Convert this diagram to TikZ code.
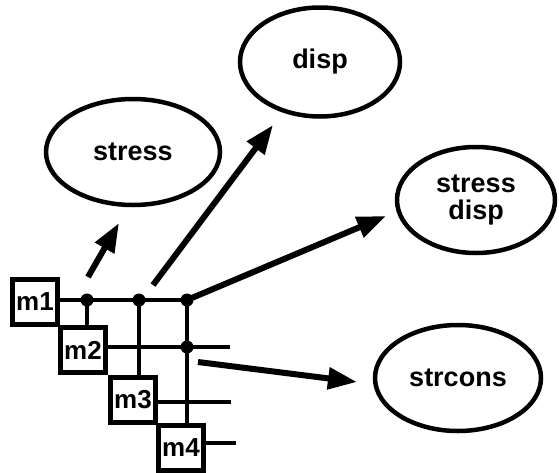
\documentclass[tikz,border=0pt]{standalone}
\usepackage{fontspec}
\setmainfont{Liberation Sans}
\usetikzlibrary{shapes.geometric,arrows.meta}

\tikzset{
  blob/.style={draw,ellipse,line width=4.5pt,inner sep=0pt,align=center,
    font=\fontsize{27}{27}\selectfont\bfseries},
  mbox/.style={draw,line width=4.5pt,inner sep=0pt,minimum width=45pt,minimum height=45pt,
    font=\fontsize{26}{26}\selectfont\bfseries},
  wire/.style={line width=4.5pt},
  arr/.style={line width=6pt,-{Triangle[length=29pt,width=21pt]}},
}

\begin{document}
\begin{tikzpicture}[x=1pt,y=-1pt]
                \useasboundingbox (0,0) rectangle (559,472);
                % Draw the ellipses
                \node[blob,minimum width=174pt,minimum height=106pt] (stress) at (133,152) {stress};
                \node[blob,minimum width=160pt,minimum height=109pt] (disp) at (320,62) {disp};
                \node[blob,minimum width=158pt,minimum height=106pt] (strdisp) at (476,200) {stress\\disp};
                \node[blob,minimum width=166pt,minimum height=106pt] (strcons) at (458,378) {strcons};

                % Draw the boxes
                \node[mbox] (m1) at (35,302) {m1};
                \node[mbox] (m2) at (83,350) {m2};
                \node[mbox] (m3) at (133,400) {m3};
                \node[mbox] (m4) at (181,448) {m4};

                % the joints and the loose ends
                \coordinate (d1) at (87,300);
                \coordinate (d2) at (139,300);
                \coordinate (d3) at (187,300);
                \coordinate (d4) at (187,347);
                \coordinate (e2) at (230,347);
                \coordinate (e3) at (231,402);
                \coordinate (e4) at (236,443);

                % Draw the lines
                \draw[wire] (m1.east |- d1) -- (d3);
                \draw[wire] (m2.east |- d4) -- (e2);
                \draw[wire] (m3.east |- e3) -- (e3);
                \draw[wire] (m4.east |- e4) -- (e4);
                \draw[wire] (d1) -- (d1 |- m2.north);
                \draw[wire] (d2) -- (d2 |- m3.north);
                \draw[wire] (d3) -- (d3 |- m4.north);
                \fill (d1) circle (6.5pt);
                \fill (d2) circle (6.5pt);
                \fill (d3) circle (6.5pt);
                \fill (d4) circle (6.5pt);

                % Draw the arrows
                \coordinate (t1) at (88,277);
                \coordinate (h1) at (119,223);
                \coordinate (t2) at (153,285);
                \coordinate (h2) at (273,125);
                \coordinate (h3) at (386,216);
                \coordinate (t4) at (198,362);
                \coordinate (h4) at (357,382);
                \draw[arr] (t1) -- (h1);
                \draw[arr] (t2) -- (h2);
                \draw[arr] (d3) -- (h3);
                \draw[arr] (t4) -- (h4);
            \end{tikzpicture}
\end{document}
